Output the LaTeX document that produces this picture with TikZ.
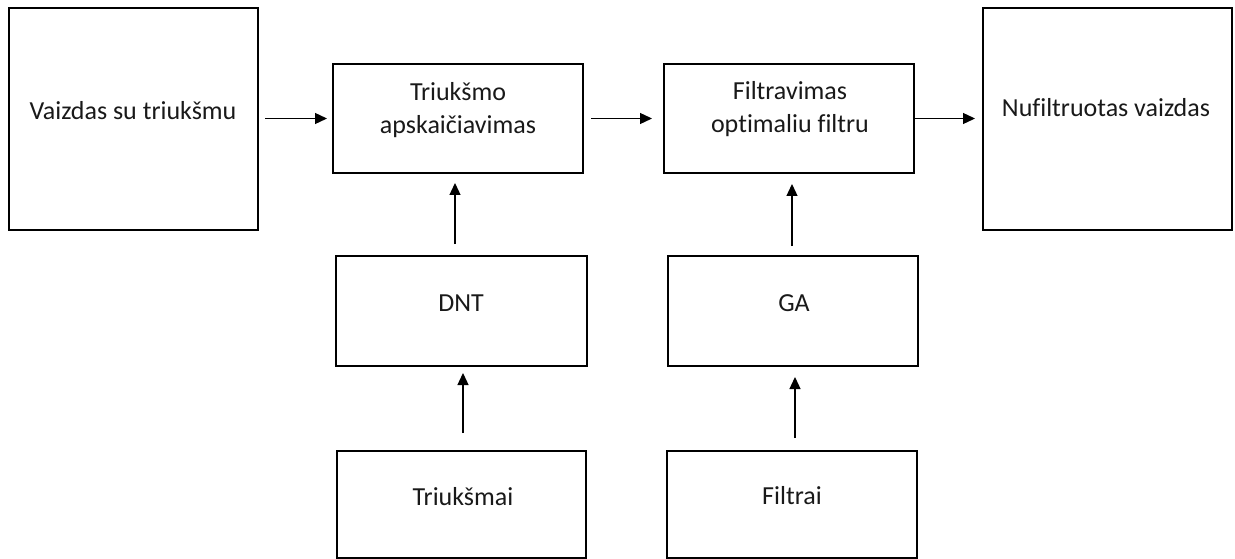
\documentclass[tikz,border=0pt]{standalone}
\usepackage{fontspec}
\setmainfont{Carlito}[Ligatures=NoCommon]
\usetikzlibrary{arrows.meta}
\begin{document}
\begin{tikzpicture}[x=1pt,y=-1pt,
  box/.style={draw=black,line width=2.2pt,outer sep=0pt,inner sep=0pt},
  txt/.style={inner sep=0pt,anchor=base,text=black!90,font=\fontsize{26}{32.5}\selectfont},
  arr/.style={line width=1.3pt,-{Triangle[length=12pt,width=11pt]}}]
\useasboundingbox (0,0) rectangle (1235,559);
% boxes
\node[box,minimum width=249pt,minimum height=222pt] (b1) at (133.5,119) {};
\node[box,minimum width=250pt,minimum height=109pt] (b2) at (458,118.5) {};
\node[box,minimum width=250pt,minimum height=109pt] (b3) at (789,118.5) {};
\node[box,minimum width=249pt,minimum height=222pt] (b4) at (1107.5,119) {};
\node[box,minimum width=251pt,minimum height=110pt] (dnt) at (461.5,311) {};
\node[box,minimum width=250pt,minimum height=110pt] (ga) at (793,311) {};
\node[box,minimum width=249pt,minimum height=107pt] (tr) at (461.5,504.5) {};
\node[box,minimum width=250pt,minimum height=107pt] (fi) at (792,504.5) {};
% texts
\node[txt] (t1) at (133,120) {Vaizdas su triukšmu};
\node[txt] (t2) at (458,101) {\begin{tabular}[t]{@{}c@{}}Triukšmo\\apskaičiavimas\end{tabular}};
\node[txt] (t3) at (790,100) {\begin{tabular}[t]{@{}c@{}}Filtravimas\\optimaliu filtru\end{tabular}};
\node[txt] (t4) at (1106,117) {Nufiltruotas vaizdas};
\node[txt] (t5) at (461,311) {DNT};
\node[txt] (t6) at (794,311) {GA};
\node[txt] (t7) at (463,505) {Triukšmai};
\node[txt] (t8) at (792,504) {Filtrai};
% horizontal connectors
\draw[arr,shorten <=7pt,shorten >=6pt] (b1.east |- b2.west) -- (b2.west);
\draw[arr,shorten <=8pt,shorten >=12pt] (b2.east) -- (b3.west);
\draw[arr,shorten >=8pt] (b3.east) -- (b3.east -| b4.west);
% vertical connectors
\coordinate (v1) at ([xshift=-6.5pt]dnt.north);
\coordinate (v2) at ([xshift=-1pt]ga.north);
\coordinate (v3) at ([xshift=1.5pt]tr.north);
\coordinate (v4) at ([xshift=3pt]fi.north);
\draw[arr,shorten <=12pt,shorten >=10pt] (v1) -- (v1 |- b2.south);
\draw[arr,shorten <=10pt,shorten >=11pt] (v2) -- (v2 |- b3.south);
\draw[arr,shorten <=18pt,shorten >=7pt] (v3) -- (v3 |- dnt.south);
\draw[arr,shorten <=13pt,shorten >=11pt] (v4) -- (v4 |- ga.south);
\end{tikzpicture}
\end{document}
